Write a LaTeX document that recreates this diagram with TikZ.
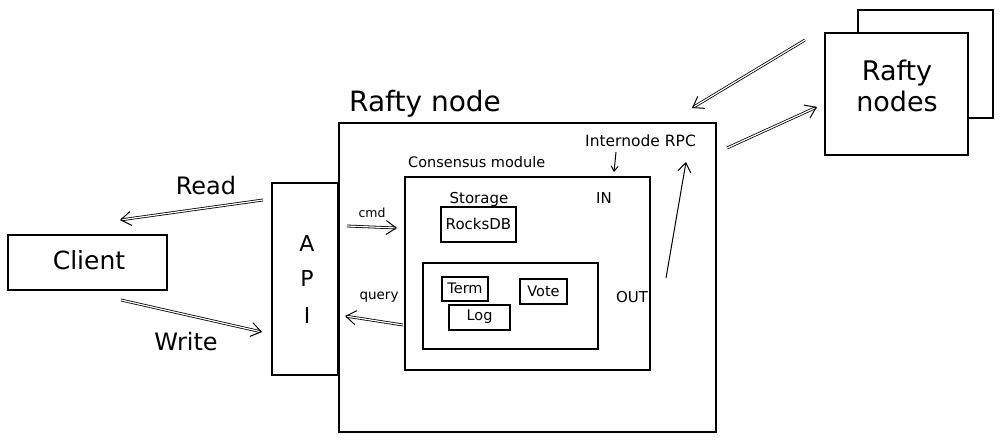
\documentclass[tikz,border=0pt]{standalone}
\usepackage{fontspec}
\setmainfont{DejaVu Sans}
\usetikzlibrary{arrows.meta}
\begin{document}
\begin{tikzpicture}[x=1pt,y=-1pt,
  box/.style={draw, line width=1.1pt, rectangle, inner sep=0pt, fill=white},
  lbl/.style={inner sep=0pt, font=\fontsize{#1}{#1}\selectfont},
  arr/.style={line width=1pt, -{Straight Barb[length=9pt,width=13pt,line width=1pt]}},
  darr/.style={line width=0.8pt, double distance=1.2pt, -{Straight Barb[length=10pt,width=14pt,line width=1pt]}}]
\useasboundingbox (0,0) rectangle (1003,441);
% boxes
\node[box, minimum width=159pt, minimum height=55pt] (client) at (87.5,262.5) {};
\node[lbl=25] (clientt) at (89,260) {Client};
\node[box, minimum width=66pt, minimum height=192pt] (api) at (305,279) {};
\node[lbl=22] (apiA) at (307,243) {A};
\node[lbl=22] (apiP) at (307,278) {P};
\node[lbl=22] (apiI) at (307,315) {I};
\node[box, minimum width=377pt, minimum height=309pt] (rnode) at (527.5,277.5) {};
\node[lbl=28, anchor=west] (rnodet) at (349,104) {Rafty node};
\node[box, minimum width=245pt, minimum height=193pt] (cons) at (527.5,273.5) {};
\node[lbl=14.5, anchor=west] (const) at (408,162) {Consensus module};
\node[lbl=15.5, anchor=west] (rpct) at (585,141) {Internode RPC};
\node[lbl=15] (stor) at (479,199) {Storage};
\node[box, minimum width=75pt, minimum height=35pt] (rocks) at (478.5,224.5) {};
\node[lbl=15] (rockst) at (478.5,224) {RocksDB};
\node[lbl=15] (in) at (604,198) {IN};
\node[lbl=15] (out) at (632,297) {OUT};
\node[box, minimum width=175pt, minimum height=86pt] (state) at (510.5,306) {};
\node[box, minimum width=46pt, minimum height=24pt] (term) at (465,289) {};
\node[lbl=14.5] (termt) at (465,288) {Term};
\node[box, minimum width=47pt, minimum height=25pt] (vote) at (543.5,291.5) {};
\node[lbl=14.5] (votet) at (543.5,291) {Vote};
\node[box, minimum width=61pt, minimum height=25pt] (log) at (479.5,317.5) {};
\node[lbl=14.5] (logt) at (479.5,317) {Log};
\node[lbl=12.5] (cmd) at (372,213) {cmd};
\node[lbl=13.5] (query) at (379,297) {query};
\node[lbl=24] (read) at (206,186) {Read};
\node[lbl=24] (write) at (186,342) {Write};
% rafty nodes
\node[box, minimum width=135pt, minimum height=108pt] (peers2) at (925.5,64) {};
\node[box, minimum width=143pt, minimum height=122pt] (peers) at (896.5,94) {};
\node[lbl=27, align=center] (peerst) at (897,86) {Rafty\\[4pt]nodes};
% connector end points
\coordinate (readS) at (263,200);
\coordinate (readE) at (120,220);
\coordinate (writeS) at (121,300);
\coordinate (writeE) at (262,332);
\coordinate (cmdS) at (347,226);
\coordinate (cmdE) at (397,228);
\coordinate (qS) at (403,325);
\coordinate (qE) at (345,316);
\coordinate (upS) at (666,278);
\coordinate (upE) at (686,162);
\coordinate (rpcS) at (616,152);
\coordinate (rpcE) at (614,172);
\coordinate (inS) at (805,40);
\coordinate (inE) at (692,108);
\coordinate (outS) at (727,148);
\coordinate (outE) at (817,107);
% connectors
\draw[darr] (readS) -- (readE);
\draw[darr] (writeS) -- (writeE);
\draw[darr] (cmdS) -- (cmdE);
\draw[darr] (qS) -- (qE);
\draw[arr] (upS) -- (upE);
\draw[line width=1pt, -{Straight Barb[length=5pt,width=7pt,line width=1pt]}] (rpcS) -- (rpcE);
\draw[darr] (inS) -- (inE);
\draw[darr] (outS) -- (outE);
\end{tikzpicture}
\end{document}
